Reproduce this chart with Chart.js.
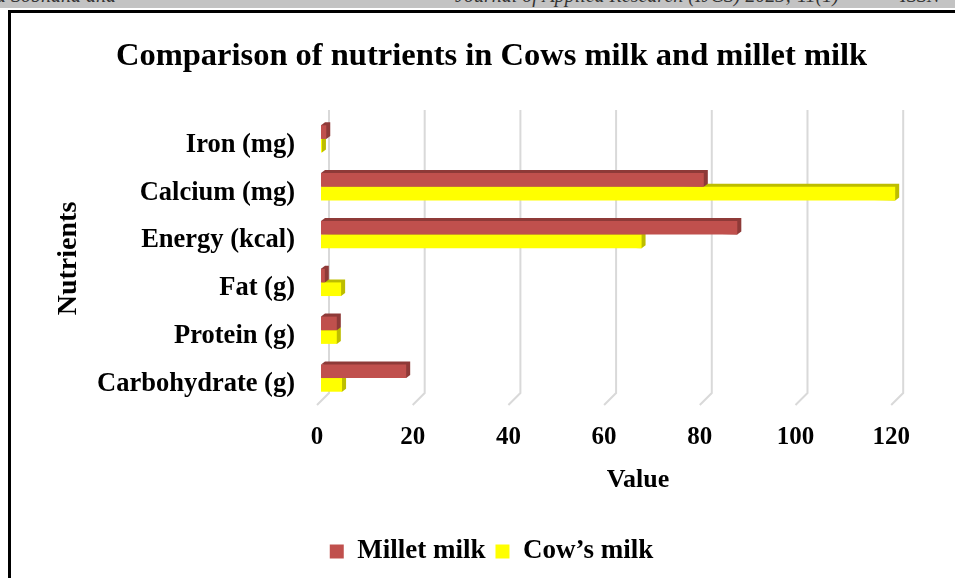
<!DOCTYPE html>
<html>
<head>
<meta charset="utf-8">
<script src="https://cdn.jsdelivr.net/npm/chart.js@4/dist/chart.umd.min.js"></script>
<style>
  html, body { margin: 0; padding: 0; background: #fff; }
  #pagina { position: relative; width: 955px; height: 578px; overflow: hidden; }
  #striscia { position: absolute; left: 0; top: 0; width: 955px; height: 8px; background: #c3c3c3; overflow: hidden; }
  #striscia span { position: absolute; top: -16px; font: italic 20px 'Liberation Serif', serif; color: #333; white-space: nowrap; }
  #cornice { position: absolute; left: 8px; top: 10px; width: 960px; height: 580px; border-top: 3px solid #000; border-left: 3px solid #000; }
  #grafico { position: absolute; left: 0; top: 0; }
</style>
</head>
<body>
<div id="pagina">
  <div id="striscia">
    <span style="left:-4px">d Sobhana and</span>
    <span style="left:455px">Journal of Applied Research (IJCS) 2023; 11(1)</span>
    <span style="left:900px">ISSN</span>
  </div>
  <div id="cornice"></div>
  <canvas id="grafico" width="955" height="578"></canvas>
</div>
<script>
// Dati
var nutrienti = ['Carbohydrate (g)', 'Protein (g)', 'Fat (g)', 'Energy (kcal)', 'Calcium (mg)', 'Iron (mg)'];
var latteMiglio = [17.8, 3.3, 0.8, 87, 80, 1.1];
var latteMucca = [4.4, 3.3, 4.2, 67, 120, 0.2];
var tacche = [0, 20, 40, 60, 80, 100, 120];

var coloreMiglio = '#c0504d';
var coloreMiglioScuro = '#8e3a38';
var coloreMucca = '#ffff00';
var coloreMuccaScuro = '#bdbd00';

var fontSerif = "'Liberation Serif', 'Times New Roman', serif";

// Griglia "3D": linea sul fondo + diagonale sul pavimento
var pluginGriglia = {
  id: 'griglia3d',
  beforeDatasetsDraw: function(chart) {
    var ctx = chart.ctx;
    var area = chart.chartArea;
    var x = chart.scales.x;
    ctx.save();
    ctx.strokeStyle = '#d9d9d9';
    ctx.lineWidth = 2;
    tacche.forEach(function(v) {
      var px = x.getPixelForValue(v);
      ctx.beginPath();
      ctx.moveTo(px + 8, area.top - 5);
      ctx.lineTo(px + 8, area.bottom - 9);
      ctx.lineTo(px - 4, area.bottom + 3);
      ctx.stroke();
    });
    ctx.restore();
  }
};

// Facce superiore e laterale delle barre (effetto 3D)
var pluginProfondita = {
  id: 'profondita',
  beforeDatasetsDraw: function(chart) {
    var ctx = chart.ctx;
    var dx = 4, dy = 3;
    ctx.save();
    for (var i = chart.data.datasets.length - 1; i >= 0; i--) {
      var meta = chart.getDatasetMeta(i);
      ctx.fillStyle = chart.data.datasets[i].coloreLato;
      meta.data.forEach(function(barra) {
        var p = barra.getProps(['x', 'y', 'base', 'height'], true);
        var sx = Math.min(p.base, p.x), dxx = Math.max(p.base, p.x);
        var alto = p.y - p.height / 2, basso = p.y + p.height / 2;
        ctx.beginPath();
        ctx.moveTo(sx, alto);
        ctx.lineTo(sx + dx, alto - dy);
        ctx.lineTo(dxx + dx, alto - dy);
        ctx.lineTo(dxx + dx, basso - dy);
        ctx.lineTo(dxx, basso);
        ctx.closePath();
        ctx.fill();
      });
    }
    ctx.restore();
  }
};

var grafico = new Chart(document.getElementById('grafico').getContext('2d'), {
  type: 'bar',
  data: {
    labels: nutrienti,
    datasets: [{
      label: 'Millet milk',
      data: latteMiglio,
      backgroundColor: coloreMiglio,
      coloreLato: coloreMiglioScuro,
      borderWidth: 0,
      categoryPercentage: 0.57,
      barPercentage: 1.0
    },
    {
      label: 'Cow\u2019s milk',
      data: latteMucca,
      backgroundColor: coloreMucca,
      coloreLato: coloreMuccaScuro,
      borderWidth: 0,
      categoryPercentage: 0.57,
      barPercentage: 1.0
    }]
  },
  options: {
    indexAxis: 'y',
    responsive: false,
    animation: false,
    layout: { padding: { left: 28, right: 0, top: 0, bottom: 3 } },
    plugins: {
      title: {
        display: true,
        text: 'Comparison of nutrients in Cows milk and millet milk',
        color: '#000',
        font: { family: fontSerif, size: 32.5, weight: 'bold' },
        padding: { top: 37, bottom: 39 }
      },
      legend: {
        position: 'bottom',
        labels: {
          boxWidth: 14,
          boxHeight: 14,
          padding: 10,
          color: '#000',
          font: { family: fontSerif, size: 27, weight: 'bold' }
        }
      },
      tooltip: { enabled: false }
    },
    scales: {
      x: {
        type: 'linear',
        min: 0,
        max: 132.5, // lascia spazio a destra come nell'originale
        grid: { display: false },
        border: { display: false },
        afterBuildTicks: function(scala) {
          scala.ticks = tacche.map(function(v) { return { value: v }; });
        },
        afterFit: function(scala) { scala.height = 126; },
        ticks: {
          padding: 13,
          labelOffset: -4,
          color: '#000',
          font: { family: fontSerif, size: 25, weight: 'bold' }
        },
        title: {
          display: true,
          text: 'Value',
          color: '#000',
          font: { family: fontSerif, size: 26, weight: 'bold' },
          padding: { top: 10, bottom: 32 }
        }
      },
      y: {
        reverse: true,
        grid: { display: false },
        border: { display: false },
        afterFit: function(scala) { scala.width = 293; },
        ticks: {
          padding: 18,
          labelOffset: 6,
          color: '#000',
          font: { family: fontSerif, size: 26.5, weight: 'bold' }
        },
        title: {
          display: true,
          text: 'Nutrients',
          color: '#000',
          font: { family: fontSerif, size: 28, weight: 'bold' },
          padding: { top: 24, bottom: 0 }
        }
      }
    }
  },
  plugins: [pluginGriglia, pluginProfondita]
});
</script>
</body>
</html>
